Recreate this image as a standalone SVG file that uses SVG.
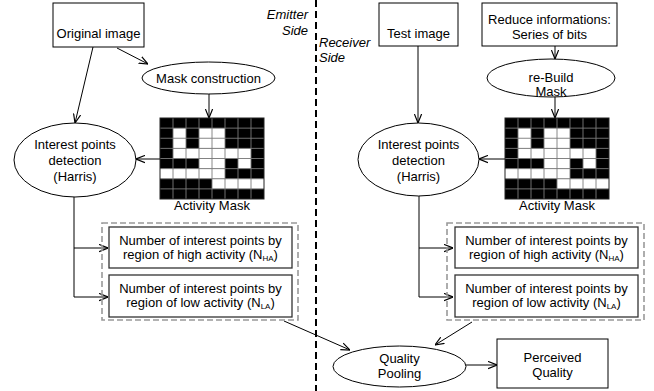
<svg xmlns="http://www.w3.org/2000/svg" xmlns:xlink="http://www.w3.org/1999/xlink" width="654" height="391" viewBox="0 0 654 391">
<style>
text{font-family:"Liberation Sans",Arial,sans-serif;font-size:13px;fill:#000}
.c{text-anchor:middle}
.it{font-style:italic}
.box{fill:#fff;stroke:#000;stroke-width:1}
.box2{fill:#fff;stroke:#333;stroke-width:1.3}
.grp{fill:none;stroke:#999;stroke-width:1.6;stroke-dasharray:6,3}
.ell{fill:#fff;stroke:#000;stroke-width:1}
.ln{fill:none;stroke:#000;stroke-width:1}
.arr{marker-end:url(#ah)}
.sub{font-size:8px}
</style>
<defs>
<marker id="ah" viewBox="0 0 10 10" refX="10" refY="5" markerWidth="9" markerHeight="9" orient="auto" markerUnits="userSpaceOnUse">
<path d="M0,1 L10,5 L0,9" fill="none" stroke="#000" stroke-width="1.3"/>
</marker>
<g id="maskgrid">
<rect x="0" y="0" width="104" height="81" fill="#000"/>
<g fill="#fff">
<rect x="13" y="10.125" width="13" height="20.25"/>
<rect x="39" y="10.125" width="26" height="20.25"/>
<rect x="13" y="30.375" width="78" height="10.125"/>
<rect x="39" y="40.5" width="26" height="10.125"/>
<rect x="78" y="40.5" width="13" height="10.125"/>
<rect x="0" y="50.625" width="65" height="10.125"/>
<rect x="52" y="60.75" width="52" height="10.125"/>
</g>
<path d="M13,0V81M26,0V81M39,0V81M52,0V81M65,0V81M78,0V81M91,0V81M0,10.125H104M0,20.25H104M0,30.375H104M0,40.5H104M0,50.625H104M0,60.75H104M0,70.875H104" stroke="#7a7a7a" stroke-width="0.9" fill="none"/>
<rect x="0" y="0" width="104" height="81" fill="none" stroke="#222" stroke-width="1"/>
</g>
</defs>

<line x1="316" y1="0" x2="316" y2="391" stroke="#000" stroke-width="2" stroke-dasharray="7,4"/>
<text class="it" x="308" y="19" text-anchor="end">Emitter</text>
<text class="it" x="308" y="35" text-anchor="end">Side</text>
<text class="it" x="319" y="47">Receiver</text>
<text class="it" x="319" y="62">Side</text>

<g id="connectors">
<line class="ln arr" x1="117" y1="48" x2="148" y2="64"/>
<line class="ln arr" x1="93" y1="47" x2="75" y2="123"/>
<line class="ln arr" x1="209" y1="94" x2="209" y2="118"/>
<line class="ln arr" x1="160" y1="159" x2="136" y2="159"/>
<path class="ln arr" d="M74,197V297H108"/>
<path class="ln arr" d="M74,248H108"/>
<line class="ln arr" x1="284" y1="321" x2="350" y2="350"/>
<line class="ln arr" x1="418" y1="46" x2="418" y2="123"/>
<line class="ln arr" x1="555" y1="46" x2="555" y2="59"/>
<line class="ln arr" x1="555" y1="97" x2="555" y2="118"/>
<line class="ln arr" x1="505" y1="159" x2="479" y2="159"/>
<path class="ln arr" d="M419,196V297H453"/>
<path class="ln arr" d="M419,248H453"/>
<line class="ln arr" x1="472" y1="322" x2="435" y2="345"/>
<line class="ln arr" x1="466" y1="365" x2="497" y2="365"/>
</g>

<g id="original-image">
<rect class="box" x="53" y="3" width="91" height="44"/>
<text class="c" x="98.5" y="38">Original image</text>
</g>
<g id="mask-construction">
<ellipse class="ell" cx="208.5" cy="78" rx="66.5" ry="16"/>
<text class="c" x="208.5" y="83">Mask construction</text>
</g>
<g id="interest-left">
<ellipse class="ell" cx="75" cy="160" rx="61" ry="37"/>
<text class="c" x="75" y="149">Interest points</text>
<text class="c" x="75" y="165">detection</text>
<text class="c" x="75" y="181">(Harris)</text>
</g>
<g id="mask-left">
<use xlink:href="#maskgrid" transform="translate(160,118)"/>
<text class="c" x="212" y="210">Activity Mask</text>
</g>
<g id="group-left">
<rect class="grp" x="102" y="223" width="196" height="97"/>
</g>
<g id="nha-left">
<rect class="box2" x="109" y="227" width="183" height="41"/>
<text class="c" x="200.5" y="245">Number of interest points by</text>
<text class="c" x="200.5" y="259">region of high activity (N<tspan class="sub" dy="2">HA</tspan><tspan dy="-2">)</tspan></text>
</g>
<g id="nla-left">
<rect class="box2" x="109" y="275" width="183" height="42"/>
<text class="c" x="200.5" y="293">Number of interest points by</text>
<text class="c" x="200.5" y="307">region of low activity (N<tspan class="sub" dy="2">LA</tspan><tspan dy="-2">)</tspan></text>
</g>

<g id="test-image">
<rect class="box" x="379" y="3" width="79" height="43"/>
<text class="c" x="418.5" y="38">Test image</text>
</g>
<g id="reduce">
<rect class="box" x="482" y="3" width="135" height="43"/>
<text class="c" x="549.5" y="24">Reduce informations:</text>
<text class="c" x="549.5" y="39">Series of bits</text>
</g>
<g id="rebuild">
<ellipse class="ell" cx="551" cy="78" rx="64" ry="19"/>
<text class="c" x="551" y="82">re-Build</text>
<text class="c" x="551" y="96">Mask</text>
</g>
<g id="interest-right">
<ellipse class="ell" cx="418.5" cy="159.5" rx="60.5" ry="36.5"/>
<text class="c" x="418.5" y="149">Interest points</text>
<text class="c" x="418.5" y="165">detection</text>
<text class="c" x="418.5" y="181">(Harris)</text>
</g>
<g id="mask-right">
<use xlink:href="#maskgrid" transform="translate(505,118)"/>
<text class="c" x="557" y="210">Activity Mask</text>
</g>
<g id="group-right">
<rect class="grp" x="447" y="223" width="197" height="97"/>
</g>
<g id="nha-right">
<rect class="box2" x="455" y="227" width="183" height="41"/>
<text class="c" x="546.5" y="245">Number of interest points by</text>
<text class="c" x="546.5" y="259">region of high activity (N<tspan class="sub" dy="2">HA</tspan><tspan dy="-2">)</tspan></text>
</g>
<g id="nla-right">
<rect class="box2" x="455" y="275" width="183" height="42"/>
<text class="c" x="546.5" y="293">Number of interest points by</text>
<text class="c" x="546.5" y="307">region of low activity (N<tspan class="sub" dy="2">LA</tspan><tspan dy="-2">)</tspan></text>
</g>
<g id="quality-pooling">
<ellipse class="ell" cx="399.5" cy="366.5" rx="66.5" ry="20.5"/>
<text class="c" x="399.5" y="363">Quality</text>
<text class="c" x="399.5" y="378">Pooling</text>
</g>
<g id="perceived-quality">
<rect class="box" x="497" y="339" width="111" height="49"/>
<text class="c" x="552.5" y="362">Perceived</text>
<text class="c" x="552.5" y="377">Quality</text>
</g>
</svg>
